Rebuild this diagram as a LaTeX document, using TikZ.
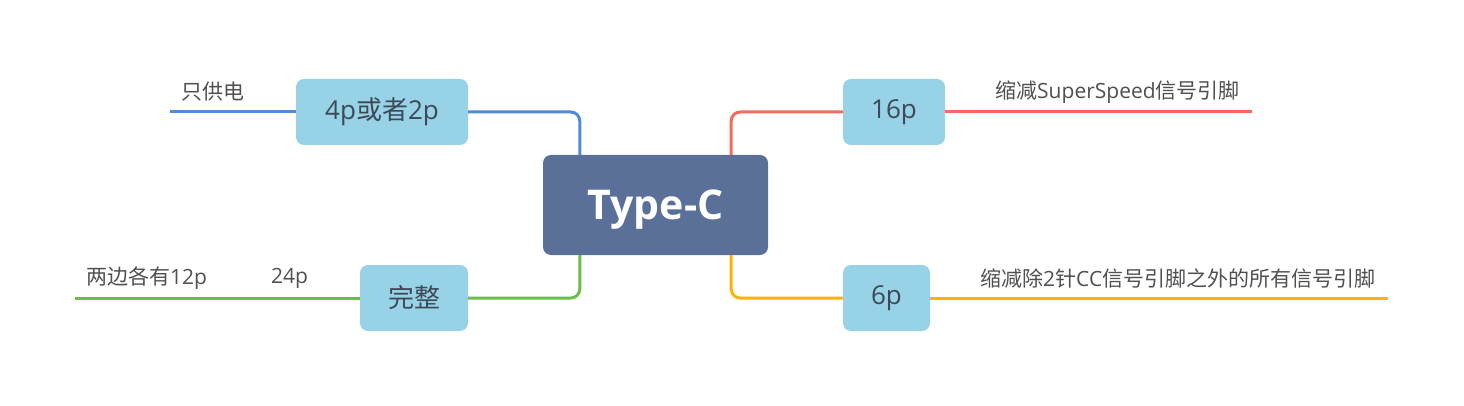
\documentclass[tikz,border=0pt]{standalone}
\usepackage{fontspec}
\setmainfont{Open Sans}
\newfontfamily\cjk{Noto Sans CJK SC}
\usetikzlibrary{positioning}
\definecolor{rootfill}{HTML}{5A7099}
\definecolor{topicfill}{HTML}{97D2E7}
\definecolor{topictext}{HTML}{3E4957}
\definecolor{labeltext}{HTML}{505050}
\definecolor{lblue}{HTML}{4F8BD6}
\definecolor{lgreen}{HTML}{6ABF4B}
\definecolor{lred}{HTML}{F26B5B}
\definecolor{lorange}{HTML}{FFB20F}
\begin{document}
\begin{tikzpicture}[x=1pt,y=-1pt,
    root/.style={rectangle, rounded corners=8pt, fill=rootfill, text=white,
      minimum width=225pt, minimum height=100pt, inner sep=0pt, text depth=0pt,
      font=\fontsize{41}{48}\selectfont\bfseries},
    topic/.style={rectangle, rounded corners=8pt, fill=topicfill, text=topictext,
      minimum height=66pt, inner sep=0pt, font=\fontsize{26}{30}\selectfont},
    note/.style={text=labeltext, inner sep=0pt, font=\fontsize{21}{24}\selectfont},
    branch/.style={line width=3pt, rounded corners=9pt}]
  \useasboundingbox (0,0) rectangle (1464,406);

  % main topic and sub topics
  \node[root] (typec) at (655.5,205) {Type-C};
  \node[topic, minimum width=172pt] (four) at (382,112) {4p{\cjk 或者}2p};
  \node[topic, minimum width=102pt] (sixteen) at (894,112) {16p};
  \node[topic, minimum width=108pt] (full) at (414,298) {\cjk 完整};
  \node[topic, minimum width=87pt] (six) at (886.5,298) {6p};

  % free ends of the branches
  \coordinate (fourend) at (170,112);
  \coordinate (fullend) at (75,298);
  \coordinate (sixteenend) at (1252,112);
  \coordinate (sixend) at (1388,298);

  % connectors
  \draw[branch, lblue] ([xshift=37pt]typec.north west) |- (four.east);
  \draw[branch, lblue] (four.west) -- (fourend);
  \draw[branch, lgreen] ([xshift=37pt]typec.south west) |- (full.east);
  \draw[branch, lgreen] (full.west) -- (fullend);
  \draw[branch, lred] ([xshift=-37pt]typec.north east) |- (sixteen.west);
  \draw[branch, lred] (sixteen.east) -- (sixteenend);
  \draw[branch, lorange] ([xshift=-37pt]typec.south east) |- (six.west);
  \draw[branch, lorange] (six.east) -- (sixend);

  % labels on the branches
  \node[note, anchor=west] (power) at (181,92) {\cjk 只供电};
  \node[note, anchor=west] (sides) at (86,278) {{\cjk 两边各有}12p};
  \node[note, anchor=west] (pins) at (271,278) {24p};
  \node[note, anchor=west] (superspeed) at (995,92) {{\cjk 缩减}SuperSpeed{\cjk 信号引脚}};
  \node[note, anchor=west] (cconly) at (980,278) {{\cjk 缩减除}2{\cjk 针}CC{\cjk 信号引脚之外的所有信号引脚}};
\end{tikzpicture}
\end{document}
